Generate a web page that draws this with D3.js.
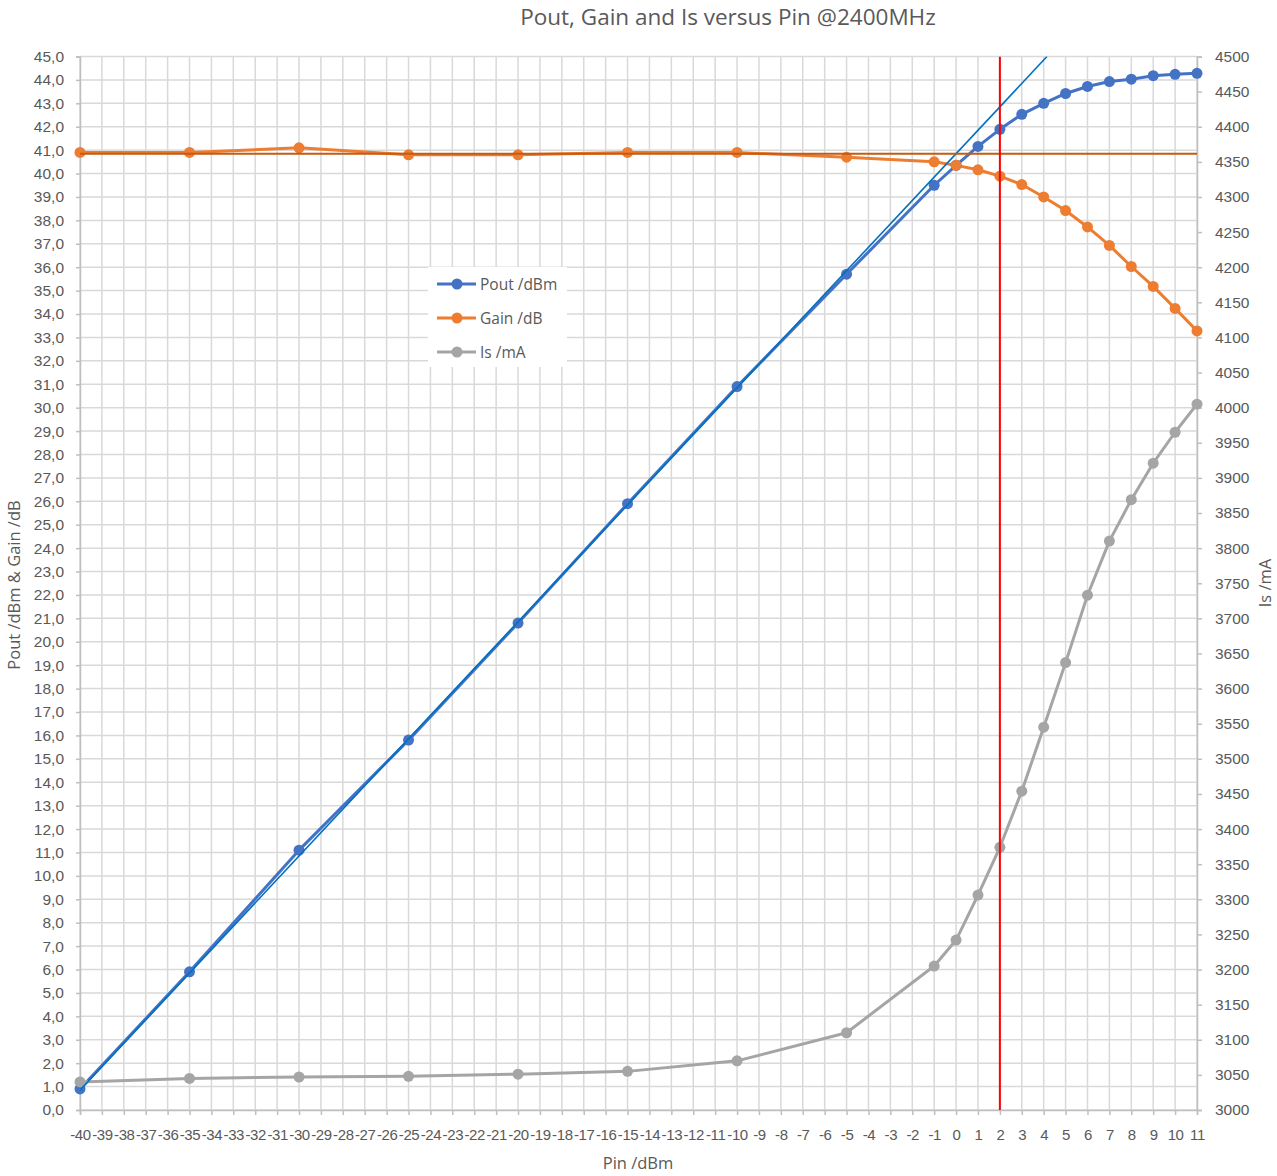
<!DOCTYPE html>
<html>
<head>
<meta charset="utf-8">
<script src="https://cdn.jsdelivr.net/npm/d3@7"></script>
<style>
  body { margin: 0; background: #fff; }
  text { font-family: "Liberation Sans", "DejaVu Sans", sans-serif; fill: #595959; }
  .title { font-family: "Open Sans", "Liberation Sans", sans-serif; }
</style>
</head>
<body>
<div id="chart"></div>
<script>
const PIN = [-40, -35, -30, -25, -20, -15, -10, -5, -1, 0, 1, 2, 3, 4, 5, 6, 7, 8, 9, 10, 11];
const POUT = [0.9, 5.9, 11.1, 15.8, 20.8, 25.9, 30.9, 35.7, 39.5, 40.35, 41.16, 41.89, 42.53, 43.0, 43.42, 43.72, 43.93, 44.03, 44.18, 44.24, 44.28];
const GAIN = [40.9, 40.9, 41.1, 40.8, 40.8, 40.9, 40.9, 40.7, 40.5, 40.35, 40.16, 39.89, 39.53, 39.0, 38.42, 37.72, 36.93, 36.03, 35.18, 34.24, 33.28];
const IS = [3040, 3045, 3047, 3048, 3051, 3055, 3070, 3110, 3205, 3242, 3306, 3374, 3454, 3545, 3637, 3733, 3810, 3869, 3921, 3965, 4005];

// small-signal gain reference and the 1 dB slope tangent
const GAIN_REF = 40.85;
const TANGENT_PIN = [-40, 4.15];
const MARKER_PIN = 2;

const X_TICKS = d3.range(-40, 12);
const LEFT_TICKS = d3.range(0, 46);
const RIGHT_TICKS = d3.range(3000, 4501, 50);

const SERIES = [
  { name: 'Pout /dBm', values: POUT, axis: 'left', color: '#4472C4' },
  { name: 'Gain /dB', values: GAIN, axis: 'left', color: '#ED7D31' },
  { name: 'Is /mA', values: IS, axis: 'right', color: '#A5A5A5' },
];

const width = 1277, height = 1176;
const plot = { left: 80, right: 1197, top: 56.5, bottom: 1110 };

const svg = d3.select('#chart').append('svg')
  .attr('width', width)
  .attr('height', height);

const x = d3.scaleLinear().domain([-40, 11]).range([plot.left, plot.right]);
const yL = d3.scaleLinear().domain([0, 45]).range([plot.bottom, plot.top]);
const yR = d3.scaleLinear().domain([3000, 4500]).range([plot.bottom, plot.top]);

svg.append('defs').append('clipPath').attr('id', 'clip')
  .append('rect')
  .attr('x', plot.left).attr('y', plot.top)
  .attr('width', plot.right - plot.left).attr('height', plot.bottom - plot.top);

// gridlines
const grid = svg.append('g').attr('stroke', '#D9D9D9').attr('stroke-width', 1.5);
grid.selectAll('.gx').data(X_TICKS).join('line')
  .attr('x1', d => x(d)).attr('x2', d => x(d))
  .attr('y1', plot.top).attr('y2', plot.bottom);
grid.selectAll('.gy').data(LEFT_TICKS).join('line')
  .attr('x1', plot.left).attr('x2', plot.right)
  .attr('y1', d => yL(d)).attr('y2', d => yL(d));

// axes
const leftAxis = svg.append('g')
  .attr('transform', 'translate(' + plot.left + ',0)')
  .call(d3.axisLeft(yL).tickValues(LEFT_TICKS).tickFormat(d => d.toFixed(1).replace('.', ',')).tickSizeOuter(0).tickSize(4).tickPadding(12));
const rightAxis = svg.append('g')
  .attr('transform', 'translate(' + plot.right + ',0)')
  .call(d3.axisRight(yR).tickValues(RIGHT_TICKS).tickFormat(d => String(d)).tickSizeOuter(0).tickSize(5).tickPadding(13));
const bottomAxis = svg.append('g')
  .attr('transform', 'translate(0,' + plot.bottom + ')')
  .call(d3.axisBottom(x).tickValues(X_TICKS).tickFormat(d => String(d)).tickSizeOuter(0).tickSize(5).tickPadding(14));

[leftAxis, rightAxis, bottomAxis].forEach(a => {
  a.select('.domain').attr('stroke', '#BFBFBF').attr('stroke-width', 1.5);
  a.selectAll('.tick line').attr('stroke', '#BFBFBF').attr('stroke-width', 1.5);
  a.selectAll('.tick text').attr('fill', '#595959').attr('font-size', '15.5px')
    .style('font-family', '"Liberation Sans", sans-serif');
});
bottomAxis.selectAll('.tick text').attr('font-size', '15px').attr('letter-spacing', '-0.4px');

// series lines (clipped), markers on top unclipped
const lines = svg.append('g').attr('clip-path', 'url(#clip)');
const markers = svg.append('g');
SERIES.forEach(s => {
  const y = s.axis === 'left' ? yL : yR;
  const line = d3.line().x((d, i) => x(PIN[i])).y(d => y(d));
  lines.append('path')
    .datum(s.values)
    .attr('d', line)
    .attr('fill', 'none')
    .attr('stroke', s.color)
    .attr('stroke-width', 3)
    .attr('stroke-linejoin', 'round');
  markers.append('g').selectAll('circle')
    .data(s.values)
    .join('circle')
    .attr('cx', (d, i) => x(PIN[i]))
    .attr('cy', d => y(d))
    .attr('r', 5.5)
    .attr('fill', s.color);
});

// reference lines
const refs = svg.append('g').attr('clip-path', 'url(#clip)');
refs.append('line')
  .attr('x1', x(TANGENT_PIN[0])).attr('y1', yL(TANGENT_PIN[0] + GAIN_REF))
  .attr('x2', x(TANGENT_PIN[1])).attr('y2', yL(TANGENT_PIN[1] + GAIN_REF))
  .attr('stroke', '#0070C0').attr('stroke-width', 1.6);
refs.append('line')
  .attr('x1', plot.left).attr('x2', plot.right)
  .attr('y1', yL(GAIN_REF)).attr('y2', yL(GAIN_REF))
  .attr('stroke', '#C55A11').attr('stroke-width', 2);
refs.append('line')
  .attr('x1', x(MARKER_PIN)).attr('x2', x(MARKER_PIN))
  .attr('y1', plot.top).attr('y2', plot.bottom)
  .attr('stroke', '#FF0000').attr('stroke-width', 2);

// titles
svg.append('text').attr('class', 'title')
  .attr('x', 728).attr('y', 25)
  .attr('text-anchor', 'middle')
  .attr('font-size', '22.5px')
  .text('Pout, Gain and Is versus Pin @2400MHz');
svg.append('text').attr('class', 'title')
  .attr('x', 638).attr('y', 1169)
  .attr('text-anchor', 'middle')
  .attr('font-size', '16.5px')
  .text('Pin /dBm');
svg.append('text').attr('class', 'title')
  .attr('transform', 'translate(20,' + 585 + ') rotate(-90)')
  .attr('text-anchor', 'middle')
  .attr('font-size', '16.5px')
  .text('Pout /dBm & Gain /dB');
svg.append('text').attr('class', 'title')
  .attr('transform', 'translate(1271,' + 583 + ') rotate(-90)')
  .attr('text-anchor', 'middle')
  .attr('font-size', '16.5px')
  .text('Is /mA');

// legend
const legend = svg.append('g').attr('transform', 'translate(428,267)');
legend.append('rect').attr('width', 139).attr('height', 100).attr('fill', '#fff');
SERIES.forEach((s, i) => {
  const g = legend.append('g').attr('transform', 'translate(0,' + (17 + i * 34) + ')');
  g.append('line').attr('x1', 9).attr('x2', 48).attr('stroke', s.color).attr('stroke-width', 3);
  g.append('circle').attr('cx', 29).attr('r', 5.5).attr('fill', s.color);
  g.append('text').attr('class', 'title').attr('x', 52).attr('dy', 5.5).attr('font-size', '15.5px').text(s.name);
});
</script>
</body>
</html>
